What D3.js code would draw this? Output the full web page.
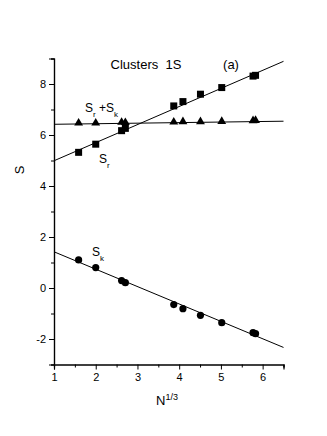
<!DOCTYPE html>
<html>
<head>
<meta charset="utf-8">
<script src="https://cdn.jsdelivr.net/npm/d3@7"></script>
<style>
  body { margin: 0; background: #fff; }
  svg { font-family: "Liberation Sans", Arial, sans-serif; }
</style>
</head>
<body>
<svg id="chart" width="327" height="436"></svg>
<script>
// N^(1/3) values for the clusters
var xVals = [1.59, 2.0, 2.62, 2.71, 3.87, 4.09, 4.51, 5.02, 5.77, 5.83];
// S_r (squares)
var sr = [5.32, 5.64, 6.17, 6.26, 7.14, 7.31, 7.60, 7.86, 8.31, 8.34];
// S_r + S_k (triangles)
var srsk = [6.47, 6.47, 6.50, 6.49, 6.51, 6.52, 6.52, 6.53, 6.56, 6.57];
// S_k (circles)
var sk = [1.10, 0.80, 0.29, 0.21, -0.65, -0.81, -1.07, -1.36, -1.75, -1.79];
// fitted lines: [intercept at x=1, slope]
var fitSr = [4.99, 0.709];
var fitSum = [6.42, 0.022];
var fitSk = [1.42, -0.682];

var xTicks = [1, 2, 3, 4, 5, 6];
var yTicks = [-2, 0, 2, 4, 6, 8];

var svg = d3.select('#chart');
var mLeft = 54, mRight = 283.5, mTop = 58.5, mBottom = 364.5;

var x = d3.scaleLinear().domain([1, 6.5]).range([mLeft, mRight]);
var y = d3.scaleLinear().domain([-3, 9]).range([mBottom, mTop]);

var fmt = function(d) { return String(d); };
var none = function() { return ''; };

// axes
var gx = svg.append('g').attr('transform', 'translate(0,' + mBottom + ')')
    .call(d3.axisBottom(x).tickValues(xTicks).tickSize(5).tickPadding(4).tickFormat(fmt));
svg.append('g').attr('transform', 'translate(0,' + mBottom + ')')
    .call(d3.axisBottom(x).tickValues([1.5, 2.5, 3.5, 4.5, 5.5, 6.5]).tickSize(3).tickFormat(none));

var gy = svg.append('g').attr('transform', 'translate(' + mLeft + ',0)')
    .call(d3.axisLeft(y).tickValues(yTicks).tickSize(5).tickPadding(3).tickFormat(fmt));
svg.append('g').attr('transform', 'translate(' + mLeft + ',0)')
    .call(d3.axisLeft(y).tickValues([-3, -1, 1, 3, 5, 7, 9]).tickSize(3).tickFormat(none));

svg.selectAll('.domain').attr('stroke', '#000').attr('stroke-width', 1.2);
svg.selectAll('.tick line').attr('stroke', '#000').attr('stroke-width', 1);
svg.selectAll('.tick text').attr('font-size', 11).attr('fill', '#000')
    .style('font-family', '"Liberation Sans", Arial, sans-serif');

// fit lines
function fitLine(f) {
    return [[1, f[0]], [6.5, f[0] + f[1] * 5.5]];
}
var line = d3.line().x(function(d) { return x(d[0]); }).y(function(d) { return y(d[1]); });
[fitSr, fitSum, fitSk].forEach(function(f) {
    svg.append('path').attr('d', line(fitLine(f)))
        .attr('fill', 'none').attr('stroke', '#000').attr('stroke-width', 1);
});

// markers
svg.append('g').selectAll('rect').data(xVals).enter().append('rect')
    .attr('x', function(d) { return x(d) - 3.5; })
    .attr('y', function(d, i) { return y(sr[i]) - 3.5; })
    .attr('width', 7).attr('height', 7).attr('fill', '#000');

var tri = d3.symbol().type(d3.symbolTriangle).size(34);
svg.append('g').selectAll('path').data(xVals).enter().append('path')
    .attr('d', tri)
    .attr('transform', function(d, i) { return 'translate(' + x(d) + ',' + y(srsk[i]) + ')'; })
    .attr('fill', '#000');

svg.append('g').selectAll('circle').data(xVals).enter().append('circle')
    .attr('cx', function(d) { return x(d); })
    .attr('cy', function(d, i) { return y(sk[i]); })
    .attr('r', 3.6).attr('fill', '#000');

// texts
svg.append('text').attr('x', 146).attr('y', 69).attr('text-anchor', 'middle')
    .attr('font-size', 13).attr('xml:space', 'preserve').text('Clusters  1S');
svg.append('text').attr('x', 231).attr('y', 69).attr('text-anchor', 'middle')
    .attr('font-size', 13).text('(a)');

function subLabel(px, py, parts) {
    var t = svg.append('text').attr('x', px).attr('y', py).attr('font-size', 12);
    parts.forEach(function(p) {
        var s = t.append('tspan').text(p[0]);
        if (p[1]) s.attr('font-size', 8).attr('dy', 5);
        if (p[2]) s.attr('dy', -5);
    });
}
subLabel(85, 112, [['S'], ['r', true], [' +S', false, true], ['k', true]]);
subLabel(99, 163, [['S'], ['r', true]]);
subLabel(92, 256, [['S'], ['k', true]]);

svg.append('text').attr('transform', 'translate(24,170) rotate(-90)')
    .attr('text-anchor', 'middle').attr('font-size', 13).text('S');

var xl = svg.append('text').attr('x', 156).attr('y', 405).attr('font-size', 13);
xl.append('tspan').text('N');
xl.append('tspan').attr('font-size', 9).attr('dy', -5).text('1/3');
</script>
</body>
</html>
